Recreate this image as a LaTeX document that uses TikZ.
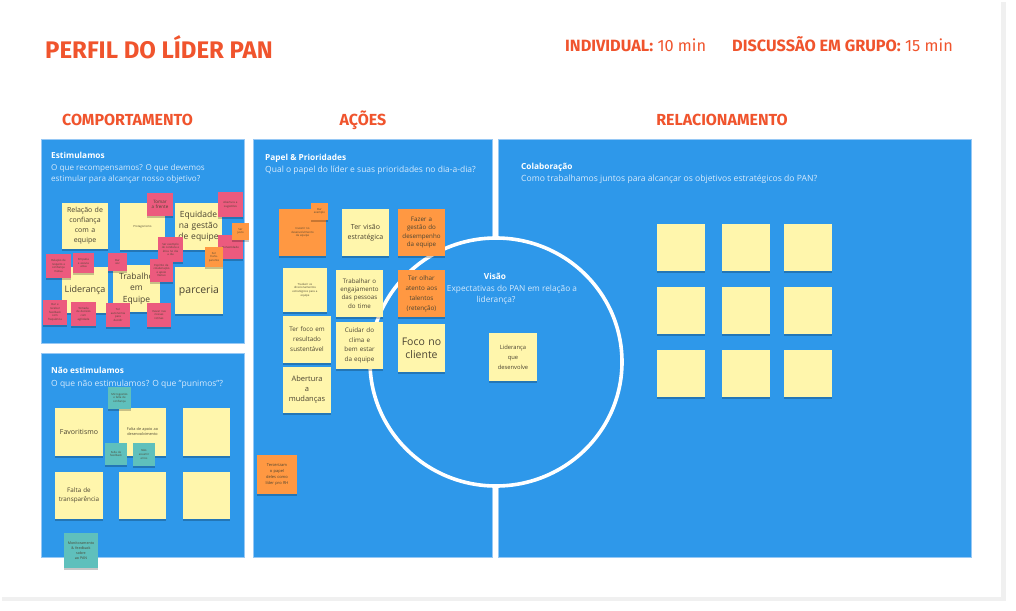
\documentclass[tikz,border=0pt]{standalone}
\usepackage{fontspec}
\setmainfont{Open Sans}
\newfontfamily\headfont{Fira Sans}
\usetikzlibrary{shadows}
\definecolor{pred}{RGB}{240,84,45}
\definecolor{pblue}{RGB}{46,152,234}
\definecolor{pedge}{RGB}{150,200,245}
\definecolor{syel}{RGB}{255,246,172}
\definecolor{sora}{RGB}{255,152,66}
\definecolor{spink}{RGB}{236,90,126}
\definecolor{steal}{RGB}{95,192,188}
\definecolor{subtxt}{RGB}{214,234,252}
\definecolor{stxt}{RGB}{75,68,50}
\newcommand\fsz[2]{\fontsize{#1}{#2}\selectfont}
\newcommand\stk[7][]{%
  \pgfmathsetmacro\stkw{#5-3}%
  \node[sticky,minimum width=#5pt,minimum height=#6pt,text width=\stkw pt,#1] (#2) at (#3+#5/2,#4+#6/2) {#7};}
\tikzset{
  sticky/.style={rectangle,inner sep=0pt,align=center,text=stxt,font=\fsz{6.2}{8.3},
    general shadow={fill=black,opacity=0.22,shadow yshift=-1.6pt,shadow xshift=0.4pt}},
  sy/.style={fill=syel},
  so/.style={fill=sora},
  sp/.style={fill=spink},
  st/.style={fill=steal},
  tinyt/.style={font=\fsz{2.8}{3.6}},
  panel/.style={fill=pblue,draw=pedge,line width=0.6pt},
  heading/.style={text=pred,font=\headfont\bfseries\fsz{16}{18},inner sep=0pt,anchor=base},
  plabel/.style={text=white,font=\bfseries\fsz{8.3}{10},inner sep=0pt,anchor=base west},
  psub/.style={text=subtxt,font=\fsz{8.3}{10},inner sep=0pt,anchor=base west},
}
\begin{document}
\begin{tikzpicture}[x=1pt,y=-1pt]
\useasboundingbox (0,0) rectangle (1016,610);
% card
\fill[black!6] (2,2) rectangle (1006,601);
\fill[white] (0,0) rectangle (1001,597);
% header
\node[text=pred,font=\headfont\bfseries\fsz{24}{26},inner sep=0pt,anchor=base west] (title) at (45,59) {PERFIL DO LÍDER PAN};
\node[text=pred,font=\headfont\fsz{16.3}{18},inner sep=0pt,anchor=base west] (indiv) at (565,51.5) {\textbf{INDIVIDUAL:} 10 min};
\node[text=pred,font=\headfont\fsz{16.3}{18},inner sep=0pt,anchor=base west] (grupo) at (732,51.5) {\textbf{DISCUSSÃO EM GRUPO:} 15 min};
\node[heading] (hcomp) at (127.5,125) {COMPORTAMENTO};
\node[heading] (hacoes) at (363,125) {AÇÕES};
\node[heading] (hrel) at (722,125) {RELACIONAMENTO};
% panels
\path[panel] (41,139) rectangle (244,343);
\path[panel] (41,353) rectangle (244,557);
\path[panel] (253,139) rectangle (492,557);
\path[panel] (498,139) rectangle (971,557);
% circle
\draw[white,line width=3.6pt,fill=pblue] (496,362) ellipse [x radius=126,y radius=124];
% panel labels
\node[plabel] (l1a) at (51,158.5) {Estimulamos};
\node[psub,font=\fsz{8.1}{10}] (l1b) at (51,170) {O que recompensamos? O que devemos};
\node[psub,font=\fsz{8.1}{10}] (l1c) at (51,181.5) {estimular para alcançar nosso objetivo?};
\node[plabel] (l2a) at (51,373) {Não estimulamos};
\node[psub,font=\fsz{8.5}{10}] (l2b) at (51,386) {O que não estimulamos? O que "punimos"?};
\node[plabel] (l3a) at (265,160) {Papel \& Prioridades};
\node[psub,font=\fsz{8.5}{10}] (l3b) at (265,172) {Qual o papel do líder e suas prioridades no dia-a-dia?};
\node[plabel] (l4a) at (521,169) {Colaboração};
\node[psub,font=\fsz{8.6}{10}] (l4b) at (521,181) {Como trabalhamos juntos para alcançar os objetivos estratégicos do PAN?};
\node[plabel,anchor=base] (l5a) at (495,279) {Visão};
\node[psub,anchor=base] (l5b) at (512,291) {Expectativas do PAN em relação a};
\node[psub,anchor=base] (l5c) at (496,302) {liderança?};
% ---- Estimulamos
\stk[sy,font=\fsz{7}{10}]{e1}{62}{203}{46}{46}{Relação de\\confiança\\com a\\equipe}
\stk[sy,tinyt]{e2}{120}{203}{45}{47}{Protagonismo}
\stk[sy,font=\fsz{8.5}{11}]{e3}{175}{203}{47}{47}{Equidade\\na gestão\\de equipe}
\stk[sy,font=\fsz{9}{11}]{e4}{62}{267}{46}{46}{Liderança}
\stk[sy,font=\fsz{8.5}{11.5}]{e5}{113}{265}{47}{47}{Trabalho\\em\\Equipe}
\stk[sy,font=\fsz{10.5}{12}]{e6}{175}{267}{48}{47}{parceria}
\stk[sp,font=\fsz{4.5}{5.5}]{p1}{147}{193}{26}{23}{Tomar\\a frente}
\stk[sp,tinyt]{p2}{218}{192}{25}{25}{Abertura a\\sugestões}
\stk[sp,tinyt]{p3}{218}{235}{25}{24}{Honestidade}
\stk[sp,tinyt]{p4}{158}{237}{25}{25}{Ser exemplo\\de conduta e\\ética no dia\\a dia}
\stk[sp,tinyt]{p5}{108}{253}{19}{18}{Dar\\voz}
\stk[sp,tinyt]{p6}{150}{259}{23}{23}{Espírito de\\colaboração\\e apoio\\mútuo}
\stk[sp,tinyt]{p7}{46}{254}{25}{24}{Relação de\\respeito e\\confiança\\mútua}
\stk[sp,tinyt]{p8}{73}{253}{21}{20}{Empatia\\e escuta\\ativa}
\stk[sp,tinyt]{p9}{43}{300}{24}{25}{Dar e\\receber\\feedback\\com\\frequência}
\stk[sp,tinyt]{p10}{71}{302}{25}{24}{Tomada\\de decisão\\com\\agilidade}
\stk[sp,tinyt]{p11}{106}{303}{24}{24}{Ter\\autonomia\\para\\decidir}
\stk[sp,tinyt]{p12}{147}{303}{24}{24}{Inovar nas\\nossas\\rotinas}
\stk[so,tinyt]{o1}{232}{223}{17}{17}{Ser\\justo}
\stk[so,tinyt]{o2}{205}{247}{18}{20}{Ser\\trans-\\parente}
% ---- Nao estimulamos
\stk[sy,font=\fsz{7}{9}]{n1}{55}{408}{48}{48}{Favoritismo}
\stk[sy,font=\fsz{3.8}{5}]{n2}{119}{408}{47}{48}{Falta de apoio ao\\desenvolvimento}
\stk[sy]{n3}{183}{408}{47}{48}{}
\stk[sy,font=\fsz{6.3}{8.3}]{n4}{55}{472}{48}{47}{Falta de\\transparência}
\stk[sy]{n5}{119}{472}{47}{47}{}
\stk[sy]{n6}{183}{472}{47}{47}{}
\stk[st,tinyt]{t1}{108}{387}{23}{22}{Microgestão\\e falta de\\confiança}
\stk[st,tinyt]{t2}{105}{443}{22}{22}{Falta de\\feedback}
\stk[st,tinyt]{t3}{133}{443}{22}{23}{Não\\assumir\\erros}
\stk[st,font=\fsz{3.6}{5}]{t4}{64}{533}{34}{35}{Monitoramento\\\& feedback\\sobre\\ao PAN}
% ---- Acoes
\stk[so,tinyt]{a1}{279}{209}{47}{47}{Investir no\\desenvolvimento\\da equipe}
\stk[so,tinyt]{a2}{311}{203}{17}{17}{Dar\\exemplo}
\stk[sy,font=\fsz{7}{10}]{a3}{342}{209}{47}{47}{Ter visão\\estratégica}
\stk[so]{a4}{398}{209}{47}{47}{Fazer a\\gestão do\\desempenho\\da equipe}
\stk[sy,tinyt]{a5}{283}{268}{44}{44}{Traduzir os\\direcionamentos\\estratégicos para a\\equipe}
\stk[sy]{a6}{336}{270}{47}{47}{Trabalhar o\\engajamento\\das pessoas\\do time}
\stk[so,font=\fsz{6.3}{10}]{a7}{398}{270}{47}{47}{Ter olhar\\atento aos\\talentos\\(retenção)}
\stk[sy,font=\fsz{6.3}{10}]{a8}{283}{316}{48}{47}{Ter foco em\\resultado\\sustentável}
\stk[sy,font=\fsz{6.3}{9.7}]{a9}{336}{322}{47}{47}{Cuidar do\\clima e\\bem estar\\da equipe}
\stk[sy,font=\fsz{10.5}{12.7}]{a10}{398}{324}{47}{48}{Foco no\\cliente}
\stk[sy,font=\fsz{7.5}{10}]{a11}{283}{367}{48}{46}{Abertura\\a\\mudanças}
\stk[so,font=\fsz{4}{6}]{a12}{257}{455}{40}{39}{Tercerizam\\o papel\\deles como\\líder pro RH}
\stk[sy,font=\fsz{5.8}{10}]{v1}{489}{333}{48}{48}{Liderança\\que\\desenvolve}
% ---- Relacionamento
\foreach \i/\x in {1/657,2/722,3/784}{
  \foreach \j/\y in {1/224,2/287,3/350}{
    \stk[sy]{r\i\j}{\x}{\y}{48}{47}{}
  }
}
\end{tikzpicture}
\end{document}
